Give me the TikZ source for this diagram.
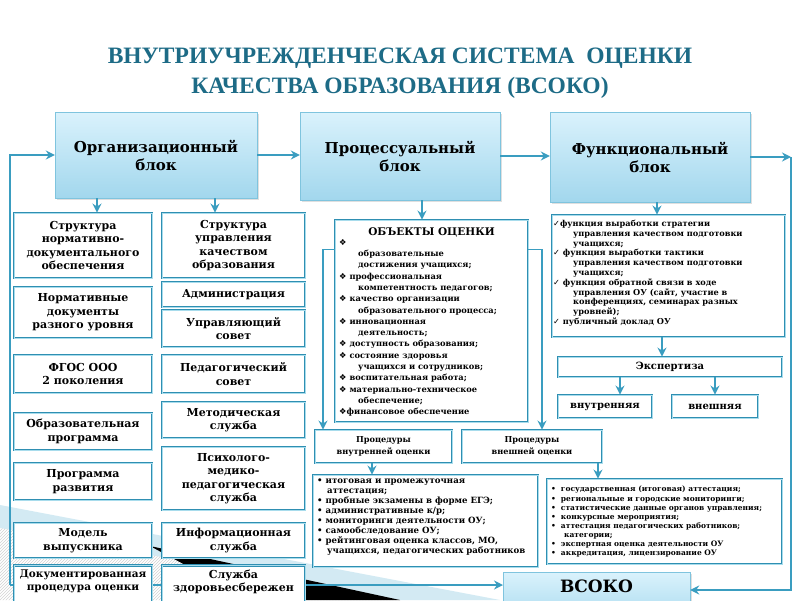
\documentclass[tikz,border=0pt]{standalone}
\usepackage{fontspec}
\setmainfont{DejaVu Serif}
\newfontfamily\titlefont{Liberation Serif}
\newfontfamily\symfont{DejaVu Sans}
\usepackage{xcolor}
\usetikzlibrary{arrows.meta,shadows,patterns}

\definecolor{linecol}{HTML}{3A9DC0}
\definecolor{boxcol}{HTML}{2F8FB2}
\definecolor{boxin}{HTML}{A8DCEC}
\definecolor{titlecol}{HTML}{1D6B86}
\definecolor{toptop}{HTML}{DAF2FC}
\definecolor{topbot}{HTML}{A2D7ED}
\definecolor{topedge}{HTML}{7FC4DE}
\definecolor{decoblue}{HTML}{D3EAF3}

\newcommand{\romb}{{\symfont ❖}}
\newcommand{\chk}{{\symfont ✓}}

\tikzset{
  topblock/.style={draw=topedge, top color=toptop, bottom color=topbot,
    drop shadow={opacity=0.25, shadow xshift=1.5pt, shadow yshift=-1.5pt},
    align=center, inner sep=2pt, font=\fontsize{15}{18}\selectfont\bfseries},
  wbox/.style={draw=boxcol, double=boxin, double distance=0.7pt, line width=0.9pt,
    fill=white, align=center, inner sep=1pt, font=\fontsize{11}{13.5}\selectfont\bfseries},
  listtext/.style={align=left, inner sep=0pt, anchor=north west},
  arr/.style={draw=linecol, line width=1.6pt, -{Stealth[length=9pt,width=9pt,inset=3pt]}},
  wire/.style={draw=linecol, line width=1.6pt},
}

\begin{document}
\begin{tikzpicture}[x=1pt,y=-1pt]
\useasboundingbox (0,0) rectangle (800,600);
\clip (0,0) rectangle (800,600);

% slide decoration
\fill[decoblue] (0,505) -- (500,600) -- (400,600) -- (0,528) -- cycle;
\fill[pattern=north east lines, pattern color=gray!35] (0,528) -- (400,600) -- (0,600) -- cycle;
\fill[black] (150,546) -- (400,600) -- (250,600) -- cycle;

% title
\node[font=\titlefont\fontsize{23.5}{30}\selectfont\bfseries, text=titlecol, align=center] (title) at (400,73)
  {ВНУТРИУЧРЕЖДЕНЧЕСКАЯ СИСТЕМА \ ОЦЕНКИ\\КАЧЕСТВА ОБРАЗОВАНИЯ (ВСОКО)};

% main blocks
\node[topblock, minimum width=202, minimum height=86] (org) at (156,155) {Организационный\\блок};
\node[topblock, minimum width=200, minimum height=88] (proc) at (400,156) {Процессуальный\\блок};
\node[topblock, minimum width=200, minimum height=90] (func) at (650,157) {Функциональный\\блок};

% outer loop lines
\coordinate (lt) at (10,155);
\coordinate (lb) at (10,585);
\coordinate (rt) at (791,157);
\coordinate (rb) at (791,590);
\draw[arr] (lb) -- (lt) -- (lt -| org.west);
\draw[arr] (org.east) -- (org.east -| proc.west);
\draw[arr] (proc.east) -- (proc.east -| func.west);
\draw[arr] (func.east) -- (rt);

% organisational block
\node[wbox, minimum width=138, minimum height=65] (nd1) at (83,245.5) {Структура\\нормативно-\\документального\\обеспечения};
\node[wbox, minimum width=138, minimum height=51] (nd2) at (83,312.5) {Нормативные\\документы\\разного уровня};
\node[wbox, minimum width=138, minimum height=38] (nd3) at (83,374) {ФГОС ООО\\2 поколения};
\node[wbox, minimum width=138, minimum height=37] (nd4) at (83,431.5) {Образовательная\\программа};
\node[wbox, minimum width=138, minimum height=37] (nd5) at (83,481.5) {Программа\\развития};
\node[wbox, minimum width=138, minimum height=35] (nd6) at (83,540.5) {Модель\\выпускника};

\node[wbox, minimum width=143, minimum height=65] (ms1) at (233.5,245.5) {Структура\\управления\\качеством\\образования};
\node[wbox, minimum width=143, minimum height=25] (ms2) at (233.5,294.5) {Администрация};
\node[wbox, minimum width=143, minimum height=37] (ms3) at (233.5,328.5) {Управляющий\\совет};
\node[wbox, minimum width=143, minimum height=38] (ms4) at (233.5,374) {Педагогический\\совет};
\node[wbox, minimum width=143, minimum height=36] (ms5) at (233.5,420) {Методическая\\служба};
\node[wbox, minimum width=143, minimum height=63] (ms6) at (233.5,478.5) {Психолого-\\медико-\\педагогическая\\служба};
\node[wbox, minimum width=143, minimum height=35] (ms7) at (233.5,540.5) {Информационная\\служба};

\draw[arr] (lb) -- (lb -| 503,0);

\node[wbox, minimum width=138, anchor=north, inner ysep=4pt, font=\fontsize{10.5}{13.5}\selectfont\bfseries] (nd7) at (83,565) {Документированная\\процедура оценки\\~};
\node[wbox, minimum width=143, anchor=north, inner ysep=4pt] (ms8) at (233.5,565) {Служба\\здоровьесбережен\\~};

\draw[arr] ([xshift=-59pt]org.south) -- ([xshift=14pt]nd1.north);
\draw[arr] ([xshift=59pt]org.south) -- ([xshift=-18.5pt]ms1.north);

% process block
\node[wbox, minimum width=193, minimum height=202] (obj) at (431.5,321) {};
\node[font=\fontsize{10.5}{12}\selectfont\bfseries] (objtitle) at (431.5,232) {ОБЪЕКТЫ ОЦЕНКИ};
\node[listtext, font=\fontsize{8.3}{11.3}\selectfont\bfseries] (objlist) at (339,239) {%
\romb\\
\hspace*{19pt}образовательные\\
\hspace*{19pt}достижения учащихся;\\
\romb\ профессиональная\\
\hspace*{19pt}компетентность педагогов;\\
\romb\ качество организации\\
\hspace*{19pt}образовательного процесса;\\
\romb\ инновационная\\
\hspace*{19pt}деятельность;\\
\romb\ доступность образования;\\
\romb\ состояние здоровья\\
\hspace*{19pt}учащихся и сотрудников;\\
\romb\ воспитательная работа;\\
\romb\ материально-техническое\\
\hspace*{19pt}обеспечение;\\
\romb финансовое обеспечение};
\draw[arr] ([xshift=22pt]proc.south) -- ([xshift=-9.5pt]obj.north);

\node[wbox, minimum width=137, minimum height=33, font=\fontsize{8.2}{12}\selectfont\bfseries] (inproc) at (383.5,446.5) {Процедуры\\внутренней оценки};
\node[wbox, minimum width=140, minimum height=33, font=\fontsize{8.2}{12}\selectfont\bfseries] (outproc) at (532,446.5) {Процедуры\\внешней оценки};
\draw[arr] ([yshift=-30pt]obj.north west) -| ([xshift=-60.5pt]inproc.north);
\draw[arr] ([yshift=-30pt]obj.north east) -| ([xshift=10pt]outproc.north);

\node[wbox, minimum width=225, minimum height=92] (inlist) at (425.5,521) {};
\node[listtext, font=\fontsize{8.6}{10}\selectfont\bfseries] (inlisttext) at (317,479) {%
• итоговая и промежуточная\\
\hspace*{10pt}аттестация;\\
• пробные экзамены в форме ЕГЭ;\\
• административные к/р;\\
• мониторинги деятельности ОУ;\\
• самообследование ОУ;\\
• рейтинговая оценка классов, МО,\\
\hspace*{10pt}учащихся, педагогических работников};
\node[wbox, minimum width=235, minimum height=85] (outlist) at (664.5,521.5) {};
\node[listtext, font=\fontsize{7.5}{9.1}\selectfont\bfseries] (outlisttext) at (551,486) {%
•\hspace{5pt}государственная (итоговая) аттестация;\\
•\hspace{5pt}региональные и городские мониторинги;\\
•\hspace{5pt}статистические данные органов управления;\\
•\hspace{5pt}конкурсные мероприятия;\\
•\hspace{5pt}аттестация педагогических работников;\\
\hspace*{13pt}категории;\\
•\hspace{5pt}экспертная оценка деятельности ОУ\\
•\hspace{5pt}аккредитация, лицензирование ОУ};
\draw[arr] ([xshift=-11.5pt]inproc.south) -- ([xshift=-11.5pt]inproc.south |- inlist.north);
\draw[arr] ([xshift=66pt]outproc.south) -- ([xshift=66pt]outproc.south |- outlist.north);

% functional block
\node[wbox, minimum width=233, minimum height=122] (flist) at (668.5,276) {};
\node[listtext, font=\fontsize{8.2}{9.8}\selectfont\bfseries] (flisttext) at (553,220) {%
\chk функция выработки стратегии\\
\hspace*{20pt}управления качеством подготовки\\
\hspace*{20pt}учащихся;\\
\chk\ функция выработки тактики\\
\hspace*{20pt}управления качеством подготовки\\
\hspace*{20pt}учащихся;\\
\chk\ функция обратной связи в ходе\\
\hspace*{20pt}управления ОУ (сайт, участие в\\
\hspace*{20pt}конференциях, семинарах разных\\
\hspace*{20pt}уровней);\\
\chk\ публичный доклад ОУ};
\draw[arr] ([xshift=7pt]func.south) -- ([xshift=7pt]func.south |- flist.north);

\node[wbox, minimum width=224, minimum height=20, font=\fontsize{10}{11}\selectfont\bfseries] (expert) at (670,367) {Экспертиза};
\node[wbox, minimum width=94, minimum height=23, font=\fontsize{10}{11}\selectfont\bfseries] (vnutr) at (605,406.5) {внутренняя};
\node[wbox, minimum width=86, minimum height=23, font=\fontsize{10}{11}\selectfont\bfseries] (vnesh) at (715,406.5) {внешняя};
\draw[arr] ([xshift=-6.5pt]flist.south) -- ([xshift=-6.5pt]flist.south |- expert.north);
\draw[arr] ([xshift=15pt]vnutr.north |- expert.south) -- ([xshift=15pt]vnutr.north);
\draw[arr] (vnesh.north |- expert.south) -- (vnesh.north);

% result
\node[topblock, minimum width=187, anchor=north, inner ysep=8pt, font=\fontsize{17}{20}\selectfont\bfseries] (vsoko) at (596.5,572) {ВСОКО\\[8pt]~};
\draw[arr] (rt) -- (rb) -- (rb -| vsoko.east);
\end{tikzpicture}
\end{document}
